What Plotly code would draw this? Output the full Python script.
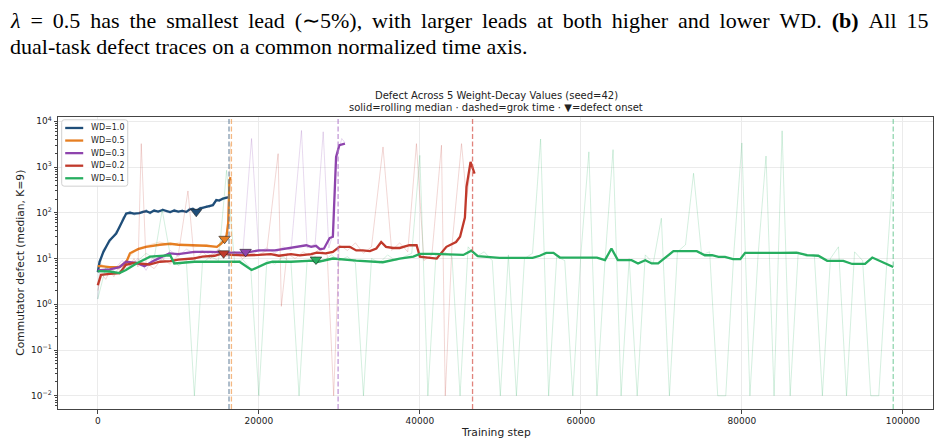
import plotly.graph_objects as go

# ---------------- data ----------------
WD_LABELS = ["WD=1.0", "WD=0.5", "WD=0.3", "WD=0.2", "WD=0.1"]
COLORS = ["#1f4e79", "#e67e22", "#8e44ad", "#c0392b", "#27ae60"]
RAW_COLORS = ["rgba(31,78,121,0.28)", "rgba(230,126,34,0.28)", "rgba(142,68,173,0.25)",
              "rgba(192,57,43,0.25)", "rgba(39,174,96,0.25)"]

# WD=1.0
blue_steps = [0, 220, 700, 1470, 2290, 2700, 3100, 3530, 4000, 4500, 5180, 5600, 6020, 6500, 7000,
              7500, 8080, 8500, 9000, 9500, 10000, 10500, 11000, 11400, 11810, 12230, 12700, 13100,
              13480, 13900, 14300, 14720, 15100, 15540, 15900, 16300]
blue_med = [5, 8.5, 14, 25, 35, 49, 70, 96, 100, 96, 98, 105, 108, 100, 112, 106, 115, 110, 104, 112,
            106, 110, 105, 118, 123, 110, 125, 130, 135, 140, 147, 190, 185, 205, 210, 220]
blue_raw = [1.3, 6, 16, 22, 40, 45, 80, 90, 110, 88, 105, 98, 120, 92, 118, 100, 125, 104, 98, 120,
            100, 118, 98, 130, 115, 100, 135, 122, 145, 130, 160, 175, 200, 190, 230, 205]

# WD=0.5
orange_steps = [0, 400, 1500, 2700, 3500, 4000, 5000, 6000, 7700, 9000, 10000, 12000, 13500, 14800,
                15300, 15700, 16000, 16200, 16350, 16500]
orange_med = [6.8, 6.8, 6.5, 6.5, 8, 13, 16, 18, 20, 21, 20, 19.5, 19, 18, 21, 25, 32, 59, 500, 600]
orange_raw = [5, 7.5, 6, 7, 9, 11, 17, 19, 23, 20, 22, 18, 20, 17, 24, 22, 40, 90, 1200, 3300]

# WD=0.3
purple_steps = [0, 1500, 2700, 3500, 4800, 5800, 7000, 8900, 10000, 12000, 14000, 15500, 16500, 18400,
                20000, 22000, 24000, 25100, 25900, 26500, 27100, 27600, 28100, 28800, 29200, 29600,
                30000, 30700]
purple_med = [5.5, 5.8, 6.5, 8.5, 8, 6.8, 9, 13, 12.5, 14, 14, 13.5, 13.5, 13.5, 15, 15, 17, 18, 19.5,
              18, 19, 16, 16.5, 28, 30, 1660, 3000, 3250]
purple_raw_steps = [0, 1000, 2000, 3000, 4000, 5000, 6000, 7000, 8000, 9000, 10000, 11000, 12000,
                    13000, 14000, 15000, 16000, 17000, 18000, 19100, 20000, 21000, 22000, 23000,
                    24000, 25300, 26000, 27000, 28000, 28700, 29200, 29600, 30000, 30300, 30700]
purple_raw = [5, 6, 5.5, 9, 7, 10, 5.5, 12, 9, 15, 11, 16, 13, 15, 12, 16, 12, 14, 12, 4200, 14, 17,
              13, 18, 15, 6300, 17, 21, 5900, 17, 35, 1200, 2600, 4200, 3400]

# WD=0.2
red_steps = [0, 400, 1500, 2700, 3500, 4500, 6400, 7700, 9000, 10000, 11800, 13000, 14500, 15500,
             16500, 18400, 20000, 21500, 22500, 24000, 25100, 26500, 27200, 28300, 29200, 30000,
             31300, 32100, 32900, 33800, 34600, 35200, 35800, 36700, 37500, 38700, 39600, 40000,
             41000, 42100, 43300, 44500, 45000, 45600, 45800, 46300, 46800]
red_med = [2.6, 4.4, 4.6, 4.8, 7.3, 8, 7.4, 8.5, 8.8, 9.5, 10, 11, 11.5, 13, 12, 11.7, 12, 12.5, 11.5,
           12.5, 11.7, 12.5, 13.5, 13, 14, 18, 18, 15, 15, 14.5, 16.6, 23, 18, 17, 17, 19.5, 19.5,
           11, 10.5, 10, 18, 23, 30, 79, 370, 1290, 720]
red_raw_steps = [0, 500, 1000, 1500, 2000, 2500, 3000, 3500, 4000, 4500, 5000, 5400, 6000, 7000, 8000,
                 9000, 10000, 11200, 12000, 13000, 14000, 15000, 16000, 17000, 18000, 19000, 20000,
                 21000, 22400, 22800, 23500, 24500, 25500, 26500, 27500, 28500, 29300, 30000, 31000,
                 32000, 33000, 34000, 35430, 36500, 37500, 38500, 39580, 40500, 41500, 42690, 43160,
                 44000, 45180, 45800, 46300, 46800]
red_raw = [2, 4.5, 3.5, 5.5, 4, 6, 5, 9, 7, 10, 6.5, 3250, 8, 6, 10, 7.5, 12, 300, 9, 14, 10, 16, 11,
           14, 10, 13, 12, 15, 1960, 0.9, 13, 10, 14, 11, 16, 12, 0.01, 20, 15, 22, 13, 18, 2750, 15,
           22, 14, 3250, 9, 12, 3000, 0.01, 20, 3250, 200, 900, 1100]

# WD=0.1
green_steps = [0, 1500, 2700, 3500, 4800, 6500, 9000, 9500, 12000, 17600, 19100, 20900, 21700, 24000,
               26700, 27150, 29200, 32100, 35400, 37500, 39200, 40000, 41700, 45400, 46400, 47200,
               49900, 54000, 54900, 55700, 56600, 57400, 62000, 63000, 63800, 64600, 66300, 67100,
               68000, 68800, 69600, 71500, 74400, 75400, 76300, 77100, 77900, 78900, 79800, 80400,
               84800, 86800, 88100, 89500, 90600, 92600, 93700, 95300, 96200, 97600, 98800]
green_med = [5.3, 5.2, 4.8, 5.6, 7.8, 11, 11.8, 7.8, 8.5, 8.5, 5.6, 7.8, 8.5, 8.5, 9, 8.3, 10, 9, 8.3,
             10, 11, 12.6, 12.6, 12, 14.8, 11.3, 10.3, 10.3, 11.5, 13.3, 13.3, 10.5, 10.5, 9.2, 16.6,
             9.2, 9.2, 7.8, 9.2, 7.8, 7.8, 14.5, 14.5, 11.8, 11.8, 10.9, 10.9, 9.7, 9.7, 13.3, 13.3,
             13.5, 11.8, 11.5, 8.9, 8.9, 7.6, 7.6, 10.5, 8.1, 6.5]
green_raw_steps = [0, 1000, 2000, 3000, 4000, 5000, 6000, 7000, 8000, 9000, 10000, 11000, 12000,
                   13000, 14000, 15000, 16000, 17000, 18000, 19000, 20000, 21000, 22000, 23000,
                   24000, 25000, 26000, 27000, 28000, 29000, 30000, 31000, 32000, 33000, 34000,
                   35000, 36000, 37000, 38000, 39000, 40000, 41000, 42000, 43000, 44000, 45000,
                   46000, 47000, 48000, 49000, 50000, 51000, 52000, 53000, 54000, 55000, 56000,
                   57000, 58000, 59000, 60000, 61000, 62000, 63000, 64000, 65000, 66000, 67000,
                   68000, 69000, 70000, 71000, 72000, 73000, 74000, 75000, 76000, 77000, 78000,
                   79000, 80000, 81000, 82000, 83000, 84000, 85000, 86000, 87000, 88000, 89000,
                   90000, 91000, 92000, 93000, 94000, 95000, 96000, 97000, 98000, 98800]
green_raw = [1.3, 6.5, 4.5, 5.5, 7, 9, 13, 10, 115, 12, 7, 9, 0.01, 8, 11, 9, 850, 8, 9.5, 6, 0.01,
             9, 7.5, 11, 8, 0.01, 9, 11, 8.5, 12, 9, 11, 8, 0.01, 10, 8, 12, 9, 11, 13, 1800, 0.01,
             12, 14, 11, 0.01, 18, 11, 14, 9, 0.01, 12, 0.01, 10, 13, 4100, 0.01, 11, 9, 0.01, 12,
             2150, 0.01, 9, 2400, 0.01, 10, 0.01, 12, 8, 76, 0.01, 14, 20, 730, 12, 14, 0.01, 0.01,
             13, 3360, 0.01, 11, 1740, 0.01, 6200, 0.01, 14, 11, 12, 0.01, 10, 18, 0.01, 14, 9,
             0.01, 0.01, 8, 940]

MED_STEPS = [blue_steps, orange_steps, purple_steps, red_steps, green_steps]
MED_VALS = [blue_med, orange_med, purple_med, red_med, green_med]
RAW_STEPS = [blue_steps, orange_steps, purple_raw_steps, red_raw_steps, green_raw_steps]
RAW_VALS = [blue_raw, orange_raw, purple_raw, red_raw, green_raw]

GROK_STEPS = [16300, 16600, 29850, 46550, 98800]
GROK_COLORS = ["rgba(90,120,150,0.75)", "rgba(240,160,90,0.75)", "rgba(175,120,200,0.75)",
               "rgba(215,90,80,0.75)", "rgba(110,200,150,0.75)"]
ONSET_STEPS = [12230, 15750, 18360, 15630, 27100]
ONSET_VALS = [105, 27, 14, 13, 9.5]

X_TICKS = [0, 20000, 40000, 60000, 80000, 100000]
Y_TICKS = [0.01, 0.1, 1, 10, 100, 1000, 10000]
Y_TICKTEXT = ["10<sup>−2</sup>", "10<sup>−1</sup>", "10<sup>0</sup>", "10<sup>1</sup>",
              "10<sup>2</sup>", "10<sup>3</sup>", "10<sup>4</sup>"]

PARA_LINE1 = "<i>λ</i> = 0.5 has the smallest lead (∼5%), with larger leads at both higher and lower WD. <b>(b)</b> All 15"
PARA_LINE2 = "dual-task defect traces on a common normalized time axis."

# ---------------- layout geometry (pixels) ----------------
W, H = 947, 447
L, R, T, B = 58.3, 932.7, 116.7, 409.3
PW, PH = R - L, B - T


def px(x):
    return (x - L) / PW


def py(y):
    return (B - y) / PH


FONT = "DejaVu Sans"
fig = go.Figure()

for i in range(5):
    fig.add_trace(go.Scatter(x=RAW_STEPS[i], y=RAW_VALS[i], mode="lines",
                             line=dict(color=RAW_COLORS[i], width=0.8),
                             showlegend=False, hoverinfo="skip"))
    fig.add_trace(go.Scatter(x=MED_STEPS[i], y=MED_VALS[i], mode="lines", name=WD_LABELS[i],
                             line=dict(color=COLORS[i], width=2.3), showlegend=False))

for i in range(5):
    fig.add_trace(go.Scatter(x=[ONSET_STEPS[i]], y=[ONSET_VALS[i]], mode="markers",
                             marker=dict(symbol="triangle-down", size=10, color=COLORS[i],
                                         line=dict(color="#222", width=0.6)),
                             showlegend=False))

shapes = []
for i in range(5):
    shapes.append(dict(type="line", xref="x", yref="paper", x0=GROK_STEPS[i], x1=GROK_STEPS[i],
                       y0=0, y1=1, line=dict(color=GROK_COLORS[i], width=1.3, dash="5px,2.5px"),
                       layer="above"))

# legend box (rounded)
lx0, lx1, ly0, ly1 = px(62), px(128), py(186), py(119.5)
rx, ry = 2.5 / PW, 2.5 / PH
path = (f"M {lx0+rx},{ly1} L {lx1-rx},{ly1} Q {lx1},{ly1} {lx1},{ly1-ry} "
        f"L {lx1},{ly0+ry} Q {lx1},{ly0} {lx1-rx},{ly0} L {lx0+rx},{ly0} "
        f"Q {lx0},{ly0} {lx0},{ly0+ry} L {lx0},{ly1-ry} Q {lx0},{ly1} {lx0+rx},{ly1} Z")
shapes.append(dict(type="path", xref="paper", yref="paper", path=path,
                   fillcolor="rgba(255,255,255,0.85)", line=dict(color="#d0d0d0", width=1),
                   layer="above"))
annotations = []
for i in range(5):
    yy = 127.7 + i * 12.6
    shapes.append(dict(type="line", xref="paper", yref="paper", x0=px(65.5), x1=px(83.5),
                       y0=py(yy), y1=py(yy), line=dict(color=COLORS[i], width=2.3), layer="above"))
    annotations.append(dict(xref="paper", yref="paper", x=px(89.5), y=py(yy), text=WD_LABELS[i],
                            showarrow=False, xanchor="left", yanchor="middle",
                            font=dict(family=FONT, size=8, color="#222")))

# titles
annotations.append(dict(xref="paper", yref="paper", x=px(496), y=py(95),
                        text="Defect Across 5 Weight-Decay Values (seed=42)", showarrow=False,
                        xanchor="center", yanchor="middle", font=dict(family=FONT, size=10, color="#222")))
annotations.append(dict(xref="paper", yref="paper", x=px(496), y=py(106.7),
                        text="solid=rolling median · dashed=grok time · ▼=defect onset", showarrow=False,
                        xanchor="center", yanchor="middle", font=dict(family=FONT, size=10, color="#222")))
annotations.append(dict(xref="paper", yref="paper", x=px(20), y=0.5, textangle=-90,
                        text="Commutator defect (median, K=9)", showarrow=False,
                        xanchor="center", yanchor="middle", font=dict(family=FONT, size=10.7, color="#222")))
annotations.append(dict(xref="paper", yref="paper", x=px(496), y=py(433),
                        text="Training step", showarrow=False,
                        xanchor="center", yanchor="middle", font=dict(family=FONT, size=10.7, color="#222")))

# paper text above the figure (first line justified by widening inter-word spaces)
SERIF = "Liberation Serif"
annotations.append(dict(xref="paper", yref="paper", x=px(8), y=py(20.5),
                        text=PARA_LINE1.replace(" ", " \u2009"),
                        showarrow=False, xanchor="left", yanchor="middle",
                        font=dict(family=SERIF, size=22, color="#000")))
annotations.append(dict(xref="paper", yref="paper", x=px(8), y=py(46),
                        text=PARA_LINE2,
                        showarrow=False, xanchor="left", yanchor="middle",
                        font=dict(family=SERIF, size=22, color="#000")))

minor_vals = [m * 10 ** e for e in range(-3, 5) for m in range(2, 10)]

fig.update_layout(
    width=W, height=H,
    margin=dict(l=L, r=W - R, t=T, b=H - B, pad=0),
    paper_bgcolor="white", plot_bgcolor="white",
    font=dict(family=FONT, size=9, color="#222"),
    showlegend=False,
    shapes=shapes, annotations=annotations,
    xaxis=dict(range=[-4940, 103740], tickvals=X_TICKS, ticktext=[str(v) for v in X_TICKS],
               showgrid=True, gridcolor="#ebebeb", gridwidth=0.8, zeroline=False,
               showline=True, linecolor="#444", linewidth=1, mirror=True,
               ticks="outside", ticklen=3.5, tickwidth=0.8, tickcolor="#444",
               tickfont=dict(family=FONT, size=9, color="#222")),
    yaxis=dict(type="log", range=[-2.29, 4.094], tickvals=Y_TICKS, ticktext=Y_TICKTEXT,
               showgrid=True, gridcolor="#ebebeb", gridwidth=0.8, zeroline=False,
               showline=True, linecolor="#444", linewidth=1, mirror=True,
               ticks="outside", ticklen=3.5, tickwidth=0.8, tickcolor="#444",
               tickfont=dict(family=FONT, size=9, color="#222"),
               minor=dict(tickmode="array", tickvals=minor_vals, ticks="outside", ticklen=2,
                          tickwidth=0.6, tickcolor="#444", showgrid=False)),
)

fig.write_html("out.html")
